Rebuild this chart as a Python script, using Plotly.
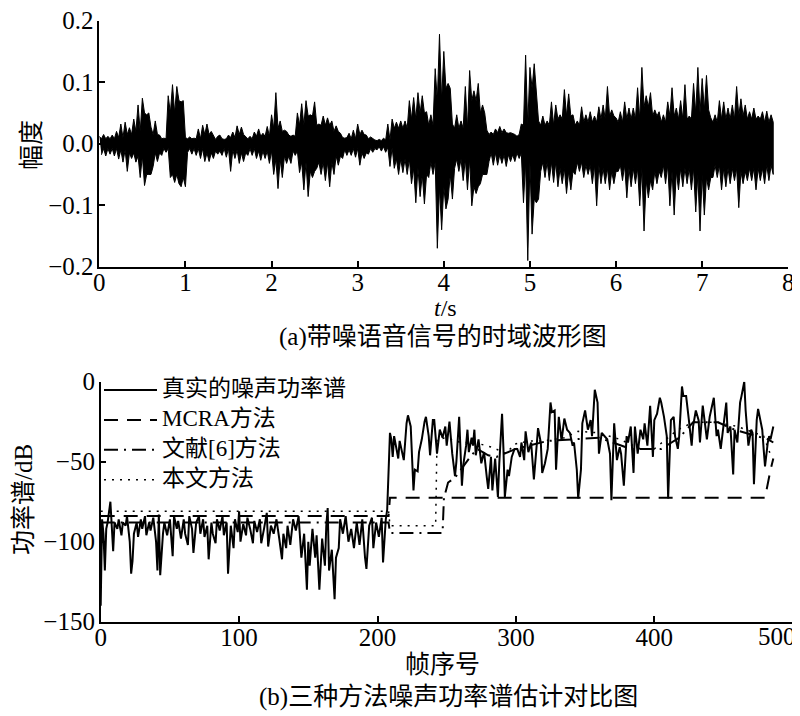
import plotly.graph_objects as go

W, H = 800, 716
OFF = 8  # the page body adds an 8 px margin; place everything relative to the visible page


def fx(px):
    return (px - OFF) / W


def fy(py):
    return 1 - (py - OFF) / H


# ---------------- (a) noisy speech waveform ----------------
# peak envelopes read every 0.05 s
wave_step = 0.05
wave_upper = [
    0.012, 0.015, 0.012, 0.014, 0.020, 0.032, 0.035, 0.026, 0.040, 0.063,
    0.074, 0.047, 0.027, 0.037, 0.014, 0.009, 0.078, 0.096, 0.093, 0.068,
    0.010, 0.011, 0.009, 0.024, 0.030, 0.032, 0.020, 0.007, 0.014, 0.007,
    0.014, 0.019, 0.029, 0.027, 0.012, 0.012, 0.019, 0.024, 0.017, 0.028,
    0.047, 0.083, 0.037, 0.022, 0.014, 0.014, 0.050, 0.065, 0.070, 0.047,
    0.068, 0.032, 0.045, 0.042, 0.037, 0.029, 0.017, 0.009, 0.017, 0.022,
    0.032, 0.022, 0.014, 0.011, 0.006, 0.007, 0.009, 0.032, 0.040, 0.035,
    0.037, 0.037, 0.070, 0.075, 0.083, 0.078, 0.052, 0.047, 0.122, 0.178,
    0.150, 0.098, 0.032, 0.047, 0.037, 0.093, 0.119, 0.086, 0.098, 0.063,
    0.022, 0.019, 0.024, 0.028, 0.024, 0.017, 0.017, 0.012, 0.032, 0.144,
    0.124, 0.130, 0.037, 0.045, 0.037, 0.068, 0.063, 0.047, 0.088, 0.081,
    0.047, 0.037, 0.060, 0.047, 0.052, 0.045, 0.060, 0.063, 0.093, 0.055,
    0.042, 0.052, 0.068, 0.058, 0.058, 0.091, 0.124, 0.078, 0.083, 0.055,
    0.052, 0.047, 0.068, 0.091, 0.058, 0.070, 0.096, 0.045, 0.098, 0.124,
    0.106, 0.111, 0.042, 0.047, 0.070, 0.068, 0.058, 0.063, 0.093, 0.073,
    0.063, 0.052, 0.058, 0.045, 0.052, 0.053, 0.047,
]
wave_lower = [
    -0.018, -0.020, -0.017, -0.020, -0.025, -0.030, -0.045, -0.024, -0.030, -0.055,
    -0.068, -0.050, -0.037, -0.029, -0.019, -0.014, -0.055, -0.063, -0.065, -0.055,
    -0.014, -0.017, -0.019, -0.024, -0.029, -0.029, -0.024, -0.017, -0.019, -0.022,
    -0.045, -0.024, -0.032, -0.029, -0.019, -0.019, -0.024, -0.027, -0.024, -0.032,
    -0.050, -0.073, -0.055, -0.032, -0.032, -0.019, -0.047, -0.075, -0.086, -0.055,
    -0.040, -0.050, -0.060, -0.070, -0.050, -0.035, -0.024, -0.019, -0.019, -0.022,
    -0.035, -0.024, -0.017, -0.014, -0.010, -0.012, -0.014, -0.037, -0.040, -0.050,
    -0.047, -0.050, -0.065, -0.096, -0.086, -0.098, -0.055, -0.050, -0.170, -0.140,
    -0.106, -0.050, -0.040, -0.045, -0.060, -0.075, -0.101, -0.081, -0.065, -0.050,
    -0.029, -0.035, -0.035, -0.032, -0.037, -0.029, -0.029, -0.024, -0.096, -0.190,
    -0.147, -0.096, -0.045, -0.055, -0.060, -0.063, -0.070, -0.065, -0.081, -0.075,
    -0.050, -0.045, -0.055, -0.050, -0.065, -0.101, -0.065, -0.065, -0.075, -0.065,
    -0.045, -0.060, -0.088, -0.070, -0.065, -0.101, -0.142, -0.088, -0.075, -0.065,
    -0.055, -0.065, -0.101, -0.116, -0.075, -0.070, -0.065, -0.075, -0.111, -0.142,
    -0.116, -0.075, -0.055, -0.055, -0.075, -0.070, -0.065, -0.060, -0.104, -0.065,
    -0.060, -0.060, -0.075, -0.060, -0.065, -0.060, -0.050,
]
# half-width of the dense (solid) core of the waveform, read every 0.1 s
wave_core = [
    0.008, 0.008, 0.010, 0.015, 0.020, 0.050, 0.015, 0.008, 0.050, 0.070,
    0.008, 0.008, 0.015, 0.012, 0.008, 0.010, 0.015, 0.008, 0.012, 0.012,
    0.025, 0.020, 0.012, 0.030, 0.045, 0.030, 0.030, 0.020, 0.010, 0.008,
    0.015, 0.008, 0.005, 0.006, 0.025, 0.025, 0.040, 0.050, 0.030, 0.070,
    0.090, 0.025, 0.025, 0.070, 0.050, 0.015, 0.018, 0.018, 0.015, 0.030,
    0.090, 0.030, 0.030, 0.040, 0.045, 0.030, 0.035, 0.035, 0.040, 0.045,
    0.035, 0.040, 0.040, 0.060, 0.045, 0.035, 0.045, 0.040, 0.040, 0.050,
    0.055, 0.035, 0.040, 0.040, 0.045, 0.040, 0.040, 0.035, 0.035,
]
time_ticks = [0, 1, 2, 3, 4, 5, 6, 7, 8]
amp_ticks = [0.2, 0.1, 0.0, -0.1, -0.2]

# ---------------- (b) noise power spectrum (dB) vs frame index ----------------
true_frames = [
    0, 1, 2, 3, 4, 5, 7, 8, 9, 10, 12, 13, 15, 16, 18, 19, 21, 22, 23, 24,
    26, 27, 29, 30, 32, 33, 35, 36, 38, 40, 41, 42, 43, 45, 46, 48, 50, 52, 53, 55,
    56, 58, 60, 61, 63, 64, 66, 67, 69, 71, 72, 74, 75, 77, 78, 80, 81, 83, 84, 86,
    88, 89, 91, 92, 94, 96, 97, 99, 100, 101, 103, 105, 106, 108, 110, 111, 113, 115, 116, 118,
    120, 121, 123, 125, 127, 129, 131, 132, 134, 135, 137, 139, 141, 143, 145, 147, 149, 150, 151, 153,
    155, 156, 158, 160, 162, 163, 164, 165, 167, 169, 170, 172, 173, 175, 177, 179, 181, 183, 185, 187,
    189, 191, 192, 194, 196, 197, 199, 201, 203, 204, 206, 207,
    208, 209, 210, 211, 212, 214, 215, 216, 218, 219, 221, 222, 224, 225, 226, 227, 229, 230, 232, 234,
    235, 237, 238, 240, 241, 243, 245, 247, 249, 250, 252, 254, 256, 257, 259, 261, 262, 264, 265, 266,
    268, 269, 270, 271, 273, 275, 277, 279, 280, 282, 283, 285, 287, 288, 290, 291, 292, 294, 295, 297,
    299, 301, 303, 304, 306, 307, 309, 311, 313, 315, 316, 318, 319, 321, 323, 325, 326, 328, 329, 331,
    333, 335, 337, 339, 341, 342, 344, 345, 347, 348, 350, 352, 354, 355, 357, 359, 360, 362, 364, 366,
    368, 369, 371, 373, 375, 376, 378, 380, 381, 383, 385, 386, 388, 390, 392, 393, 395, 397, 399, 400,
    402, 404, 405, 407, 409, 410, 412, 414, 415, 417, 418, 420, 421, 423, 425, 427, 428, 430, 432, 433,
    435, 437, 438, 440, 441, 443, 445, 446, 448, 450, 452, 453, 455, 457, 458, 460, 462, 463, 465, 466,
    468, 470, 471, 472, 474, 475, 477, 478, 479, 480, 482, 483, 484, 486,
]
true_db = [
    -140, -86, -95, -118, -92, -88, -75, -90, -106, -88, -92, -86, -96, -88, -90, -84, -100, -120, -112, -95,
    -88, -97, -86, -92, -84, -96, -88, -93, -85, -100, -118, -83, -121, -95, -88, -96, -86, -109, -84, -92,
    -87, -98, -86, -95, -102, -84, -92, -107, -88, -84, -95, -86, -97, -90, -111, -88, -95, -101, -86, -93,
    -84, -96, -88, -120, -90, -104, -86, -94, -81, -100, -89, -96, -85, -92, -101, -87, -94, -86, -101, -92,
    -82, -103, -90, -95, -86, -98, -111, -95, -104, -90, -102, -86, -93, -84, -110, -95, -130, -100, -115, -92,
    -110, -96, -130, -98, -115, -90, -79, -118, -105, -136, -110, -104, -86, -95, -84, -100, -92, -104, -88, -102,
    -86, -110, -117, -90, -85, -104, -88, -97, -85, -113, -86, -80,
    -50, -32, -36, -47, -34, -42, -48, -37, -44, -49, -26, -21, -28, -50, -68, -55, -56, -44, -36, -25,
    -22, -34, -46, -24, -24, -45, -30, -35, -28, -40, -25, -45, -59, -50, -22, -65, -52, -40, -30, -44,
    -35, -40, -30, -46, -36, -51, -44, -60, -67, -47, -68, -48, -72, -51, -20, -42, -72, -55, -59, -47,
    -42, -42, -47, -38, -49, -31, -44, -38, -61, -40, -29, -38, -57, -51, -42, -13, -19, -18, -55, -22,
    -37, -23, -30, -32, -40, -38, -55, -73, -55, -26, -18, -30, -24, -34, -5, -13, -45, -32, -34, -36,
    -45, -74, -26, -49, -41, -45, -65, -34, -38, -28, -57, -28, -45, -30, -36, -26, -40, -15, -47, -24,
    -20, -10, -13, -22, -34, -73, -24, -22, -34, -42, -34, -3, -9, -9, -24, -40, -28, -18, -24, -38,
    -15, -30, -36, -22, -18, -10, -34, -30, -42, -26, -13, -32, -28, -58, -30, -38, -13, -9, 0, -18,
    -40, -30, -32, -64, -24, -17, -26, -30, -42, -53, -38, -34, -36, -28,
]
mcra_frames = [0, 208, 209, 480, 484, 486]
mcra_db = [-84, -84, -72.5, -72.5, -55, -48]
ref6_frames = [0, 208, 209, 247, 248, 251, 256, 262, 267, 272, 280, 286, 300, 323, 345, 360,
               383, 405, 418, 428, 446, 458, 470, 482, 486]
ref6_db = [-88, -88, -94.6, -94.6, -72.7, -63, -60, -53, -47, -42, -46, -47, -42, -37, -36, -35,
           -42, -42, -35, -25.4, -25.4, -30, -33, -36, -38]
ours_frames = [0, 208, 209, 242, 243, 250, 260, 270, 283, 293, 299, 310, 320, 335, 345, 360,
               375, 390, 400, 417, 428, 446, 460, 479, 485]
ours_db = [-81, -81, -90, -90, -36, -35, -38, -38, -41, -45, -39, -37, -37, -35, -31, -32,
           -36, -42, -42, -30, -25.4, -25.4, -28, -34, -48]
frame_ticks = [0, 100, 200, 300, 400, 500]
frame_ticktext = ["0", "100", "200", "300", "400", ""]
db_ticks = [0, -50, -100, -150]

series_names = ["真实的噪声功率谱", "MCRA方法", "文献[6]方法", "本文方法"]
series_dash = ["solid", "14px,9px", "14px,6px,2px,6px", "2px,6px"]
series_width = [2, 2, 2, 1.5]

# waveform outline: peaks rise out of the solid core (upper edge forward, lower edge backward)
n = len(wave_upper)
ux, uy, lx, ly = [], [], [], []
for i in range(n):
    t0 = i * wave_step
    c = wave_core[min(i // 2, len(wave_core) - 1)]
    ux += [t0, t0 + wave_step / 2]
    uy += [wave_upper[i], c]
    lx += [t0 + wave_step / 2, t0 + wave_step if i < n - 1 else t0 + wave_step / 2]
    ly += [wave_lower[i], -c if i < n - 1 else wave_lower[i]]
wx = ux + lx[::-1]
wy = uy + ly[::-1]

FONT = "Liberation Serif, Noto Sans CJK SC, serif"
NUMFONT = "Liberation Serif"

fig = go.Figure()
fig.add_trace(go.Scatter(x=wx, y=wy, mode="lines", fill="toself", fillcolor="black",
                         line=dict(color="black", width=1), xaxis="x", yaxis="y",
                         showlegend=False, hoverinfo="skip"))
series = [(true_frames, true_db), (mcra_frames, mcra_db), (ref6_frames, ref6_db), (ours_frames, ours_db)]
for (sx, sy), nm, ds, lw in zip(series, series_names, series_dash, series_width):
    fig.add_trace(go.Scatter(x=sx, y=sy, mode="lines", name=nm, showlegend=False,
                             line=dict(color="black", width=lw, dash=ds), xaxis="x2", yaxis="y2"))

axis_common = dict(showline=True, linecolor="black", linewidth=1.5, ticks="inside", ticklen=6,
                   tickwidth=1.5, tickcolor="black", showgrid=False, zeroline=False, automargin=False,
                   ticklabeloverflow="allow",
                   tickfont=dict(family=NUMFONT, size=25, color="black"))

fig.update_layout(
    width=W, height=H, autosize=False,
    margin=dict(l=0, r=0, t=0, b=0),
    paper_bgcolor="white", plot_bgcolor="white",
    font=dict(family=FONT, size=24, color="black"),
    xaxis=dict(domain=[fx(99.3), fx(788.3)], anchor="y", range=[0, 8], tickvals=time_ticks,
               ticklabelstandoff=-7, **axis_common),
    yaxis=dict(domain=[fy(266.7), fy(20.7)], anchor="x", range=[-0.2, 0.2], tickvals=amp_ticks,
               tickformat=".1f", ticklabelstandoff=-1, **axis_common),
    xaxis2=dict(domain=[fx(100.7), fx(792.7)], anchor="y2", range=[0, 500], tickvals=frame_ticks,
                ticktext=frame_ticktext, ticklabelstandoff=-7, **axis_common),
    yaxis2=dict(domain=[fy(621.7), fy(381.7)], anchor="x2", range=[-150, 0], tickvals=db_ticks,
                ticklabelstandoff=-1, **axis_common),
    showlegend=False,
)

# last frame tick label nudged left so it stays inside the picture (as in the reference)
fig.add_annotation(xref="x2", yref="paper", x=frame_ticks[-1], y=fy(636), text="500", showarrow=False,
                   xanchor="right", yanchor="middle", xshift=5,
                   font=dict(family=NUMFONT, size=25, color="black"))

# legend key (layout shapes + one multi-line text) in the top-left of panel (b)
legend_font = 23
legend_top_px = 390
legend_gap_px = legend_font * 1.3
for k, (ds, lw) in enumerate(zip(series_dash, series_width)):
    ry = legend_top_px + k * legend_gap_px
    fig.add_shape(type="line", xref="paper", yref="paper", x0=fx(104), x1=fx(157),
                  y0=fy(ry), y1=fy(ry), line=dict(color="black", width=lw, dash=ds))
fig.add_annotation(xref="paper", yref="paper", x=fx(161), y=fy(legend_top_px - legend_font * 0.65),
                   text="<br>".join(series_names), showarrow=False, align="left",
                   xanchor="left", yanchor="top", borderpad=0,
                   font=dict(family=FONT, size=legend_font, color="black"))

ann = [
    dict(text="<i>t</i>/s", x=fx(445), y=fy(308), size=24),
    dict(text="(a)带噪语音信号的时域波形图", x=fx(443), y=fy(337), size=25),
    dict(text="幅度", x=fx(31), y=fy(145), size=25, textangle=-90),
    dict(text="帧序号", x=fx(443), y=fy(664), size=25),
    dict(text="(b)三种方法噪声功率谱估计对比图", x=fx(448), y=fy(697), size=25),
    dict(text="功率谱/dB", x=fx(23), y=fy(500), size=25, textangle=-90),
]
for a in ann:
    sz = a.pop("size")
    fig.add_annotation(xref="paper", yref="paper", showarrow=False, xanchor="center", yanchor="middle",
                       borderpad=0, font=dict(family=FONT, size=sz, color="black"), **a)

fig.write_html("out.html")
